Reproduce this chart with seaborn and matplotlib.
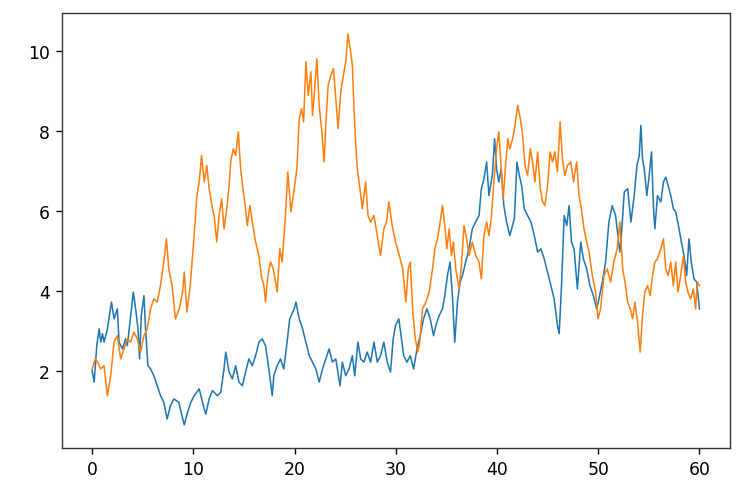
import matplotlib
matplotlib.use("Agg")
import matplotlib.pyplot as plt
import seaborn as sns
import pandas as pd

# Blue series (x, value)
blue_x = [0.00, 0.20, 0.46, 0.69, 0.86, 1.02, 1.18, 1.51, 1.91, 2.17, 2.49, 2.66, 2.99, 3.31, 3.48,
          3.81, 4.07, 4.30, 4.53, 4.69, 4.86, 5.12, 5.28, 5.51, 5.77, 6.10, 6.43, 6.76, 7.08, 7.41,
          7.74, 8.07, 8.56, 9.10, 9.43, 9.76, 10.08, 10.58, 11.07, 11.23, 11.56, 11.89, 12.38, 12.71,
          13.03, 13.20, 13.53, 13.85, 14.18, 14.51, 14.84, 15.16, 15.49, 15.82, 16.15, 16.48, 16.80,
          17.13, 17.46, 17.79, 17.95, 18.28, 18.61, 18.93, 19.26, 19.52, 19.97, 20.13, 20.46, 20.79,
          21.12, 21.45, 21.77, 22.10, 22.43, 22.76, 23.08, 23.41, 23.74, 24.07, 24.49, 24.72, 25.05,
          25.38, 25.71, 25.94, 26.26, 26.53, 26.85, 27.18, 27.51, 27.84, 28.17, 28.49, 28.82, 29.15,
          29.48, 29.74, 29.97, 30.30, 30.78, 31.10, 31.43, 31.76, 32.09, 32.41, 32.74, 33.07, 33.40,
          33.73, 33.95, 34.28, 34.61, 34.84, 35.10, 35.36, 35.59, 35.82, 36.09, 36.35, 36.58, 36.90,
          37.23, 37.56, 37.89, 38.22, 38.45, 38.71, 38.97, 39.20, 39.53, 39.76, 39.95, 40.18, 40.41,
          40.67, 40.94, 41.26, 41.71, 41.97, 42.20, 42.43, 42.69, 43.02, 43.35, 43.68, 44.01, 44.33,
          44.66, 44.99, 45.32, 45.64, 45.97, 46.14, 46.37, 46.63, 46.89, 47.12, 47.35, 47.61, 47.94,
          48.27, 48.53, 48.86, 49.18, 49.51, 49.84, 50.07, 50.40, 50.72, 51.05, 51.38, 51.71, 51.94,
          52.13, 52.24, 52.57, 52.90, 53.23, 53.55, 53.82, 54.05, 54.21, 54.37, 54.54, 54.80, 55.03,
          55.26, 55.46, 55.59, 55.85, 56.18, 56.44, 56.67, 56.90, 57.16, 57.42, 57.65, 57.98, 58.21,
          58.47, 58.73, 58.96, 59.19, 59.45, 59.72, 60.00]
blue_y = [2.01, 1.72, 2.63, 3.05, 2.72, 2.93, 2.72, 3.05, 3.72, 3.30, 3.55, 2.72, 2.55, 2.80, 2.63,
          3.38, 3.97, 3.55, 3.05, 2.30, 3.38, 3.88, 3.05, 2.13, 2.05, 1.88, 1.63, 1.38, 1.22, 0.80,
          1.13, 1.30, 1.22, 0.65, 0.97, 1.22, 1.38, 1.55, 1.05, 0.92, 1.30, 1.51, 1.38, 1.47,
          2.05, 2.47, 1.97, 1.80, 2.13, 1.72, 1.63, 1.97, 2.30, 2.13, 2.38, 2.72, 2.80,
          2.63, 2.05, 1.38, 1.88, 2.13, 2.30, 2.05, 2.72, 3.30, 3.55, 3.72, 3.30, 3.05,
          2.72, 2.38, 2.22, 2.05, 1.72, 2.05, 2.30, 2.55, 2.22, 2.30, 1.63, 2.22, 1.88,
          2.05, 2.38, 1.88, 2.72, 2.30, 2.22, 2.47, 2.22, 2.72, 2.22, 2.38, 2.72, 2.22,
          1.97, 2.80, 3.13, 3.30, 2.38, 2.22, 2.38, 2.05, 2.55, 2.88, 3.30, 3.55, 3.30,
          2.88, 3.13, 3.38, 3.55, 3.88, 4.38, 4.72, 3.88, 2.72, 3.72, 4.22, 4.38, 4.72,
          5.05, 5.55, 5.72, 5.88, 6.55, 6.80, 7.22, 6.38, 6.88, 7.80, 7.05, 6.72, 7.05,
          6.13, 5.72, 5.38, 5.80, 7.22, 6.88, 6.63, 6.05, 5.88, 5.72, 5.38, 4.97, 5.05,
          4.80, 4.47, 4.13, 3.80, 3.13, 2.93, 4.13, 5.88, 5.63, 6.13, 5.22, 5.05, 4.05,
          5.22, 4.80, 4.55, 4.13, 3.88, 3.55, 3.80, 4.22, 4.72, 5.72, 6.13, 5.88, 5.38,
          4.97, 5.22, 6.47, 6.55, 5.72, 6.38, 7.13, 7.38, 8.13, 7.30, 7.05, 6.38, 6.88,
          7.47, 6.05, 5.55, 6.38, 6.22, 6.72, 6.84, 6.63, 6.38, 6.05, 5.97, 5.55, 5.22,
          4.88, 4.38, 5.30, 4.72, 4.30, 4.22, 3.55]

# Orange series (x, value)
orange_x = [0.00, 0.30, 0.53, 0.85, 1.18, 1.51, 1.84, 2.16, 2.49, 2.82, 3.15, 3.47, 3.80, 4.13, 4.46,
            4.79, 5.11, 5.44, 5.77, 6.10, 6.43, 6.75, 7.08, 7.34, 7.57, 7.90, 8.23, 8.61, 8.94, 9.10,
            9.36, 9.69, 9.92, 10.08, 10.35, 10.58, 10.81, 11.07, 11.33, 11.56, 11.89, 12.05, 12.31,
            12.54, 12.80, 13.03, 13.30, 13.53, 13.69, 13.95, 14.18, 14.44, 14.67, 14.94, 15.16, 15.33,
            15.59, 15.82, 16.15, 16.48, 16.71, 16.97, 17.13, 17.36, 17.62, 17.89, 18.11, 18.28, 18.54,
            18.77, 19.10, 19.33, 19.64, 19.97, 20.23, 20.46, 20.69, 20.89, 21.12, 21.35, 21.61, 21.77,
            21.94, 22.20, 22.43, 22.66, 22.92, 23.08, 23.31, 23.58, 23.84, 24.07, 24.30, 24.56, 24.82,
            25.05, 25.28, 25.54, 25.71, 25.87, 26.03, 26.20, 26.46, 26.69, 27.02, 27.25, 27.51, 27.84,
            28.17, 28.49, 28.82, 29.08, 29.31, 29.64, 29.97, 30.35, 30.68, 31.00, 31.23, 31.43, 31.66,
            31.89, 32.15, 32.32, 32.64, 32.97, 33.30, 33.63, 33.86, 34.12, 34.38, 34.61, 34.84, 35.04,
            35.27, 35.50, 35.69, 35.92, 36.25, 36.48, 36.74, 37.00, 37.23, 37.56, 37.89, 38.22, 38.45,
            38.71, 38.97, 39.20, 39.43, 39.69, 39.95, 40.18, 40.41, 40.61, 40.84, 41.07, 41.26, 41.55,
            41.78, 42.04, 42.30, 42.53, 42.76, 43.02, 43.28, 43.51, 43.74, 44.01, 44.27, 44.50, 44.73,
            44.99, 45.25, 45.48, 45.71, 45.97, 46.23, 46.46, 46.69, 46.96, 47.28, 47.55, 47.87, 48.10,
            48.33, 48.59, 48.86, 49.09, 49.41, 49.74, 49.97, 50.23, 50.56, 50.89, 51.22, 51.54, 51.87,
            52.13, 52.41, 52.64, 52.90, 53.16, 53.39, 53.62, 53.88, 54.14, 54.37, 54.60, 54.87, 55.13,
            55.36, 55.59, 55.85, 56.18, 56.44, 56.67, 56.90, 57.16, 57.42, 57.65, 57.88, 58.14, 58.41,
            58.63, 58.86, 59.13, 59.39, 59.62, 59.78, 60.00]
orange_y = [2.05, 2.30, 2.22, 2.05, 2.13, 1.38, 1.88, 2.72, 2.88, 2.30, 2.55, 2.80, 2.72, 2.97, 2.80,
            2.47, 2.88, 3.05, 3.55, 3.80, 3.72, 4.13, 4.72, 5.30, 4.55, 4.13, 3.30, 3.55, 3.97, 4.47,
            3.47, 4.13, 4.88, 5.38, 6.38, 6.72, 7.38, 6.72, 7.13, 6.55, 6.05, 5.88, 5.22,
            5.88, 6.30, 5.55, 6.05, 6.63, 7.22, 7.55, 7.38, 7.97, 7.05, 6.47, 6.05, 5.63,
            6.13, 5.72, 5.22, 4.88, 4.38, 4.13, 3.72, 4.38, 4.72, 4.55, 4.22, 3.97, 5.05,
            4.72, 5.88, 6.97, 5.97, 6.55, 7.05, 8.30, 8.55, 8.22, 9.72, 8.88, 9.47, 8.38,
            8.88, 9.80, 8.63, 8.05, 7.22, 8.13, 9.13, 9.38, 9.55, 8.80, 8.05, 8.97, 9.38,
            9.72, 10.42, 9.97, 9.63, 8.55, 7.72, 7.05, 6.55, 6.05, 6.72, 5.88, 5.72, 5.88,
            5.38, 4.88, 5.55, 5.72, 6.22, 5.63, 5.22, 4.88, 4.55, 3.72, 4.55, 4.72, 3.55,
            2.88, 2.47, 2.63, 3.55, 3.72, 3.97, 4.55, 5.05, 5.30, 5.72, 6.13, 5.63, 5.05,
            5.55, 4.88, 5.22, 4.55, 4.05, 4.63, 5.63, 5.30, 4.88, 5.22, 4.88, 4.72, 4.30,
            5.38, 5.72, 5.38, 5.80, 6.72, 7.55, 7.97, 7.05, 6.30, 7.13, 7.80, 7.55, 7.80,
            8.13, 8.63, 8.30, 7.88, 7.13, 6.88, 7.55, 7.22, 6.72, 7.47, 6.55, 6.22, 6.13,
            6.63, 7.47, 7.22, 7.47, 6.97, 8.22, 7.30, 6.88, 7.13, 7.22, 6.72, 7.22, 6.38,
            6.05, 5.55, 5.22, 4.97, 4.38, 3.97, 3.30, 3.55, 4.38, 4.55, 4.22, 4.72, 5.05,
            5.72, 4.55, 4.22, 3.72, 3.55, 3.30, 3.72, 3.22, 2.47, 3.38, 3.97, 4.13, 3.88,
            4.38, 4.72, 4.80, 5.05, 5.30, 4.55, 4.38, 4.72, 4.13, 4.72, 3.97, 4.38, 4.88,
            4.22, 3.97, 3.80, 4.05, 3.55, 4.22, 4.13]

x_ticks = [0, 10, 20, 30, 40, 50, 60]
y_ticks = [2, 4, 6, 8, 10]

blue_df = pd.DataFrame({"x": blue_x, "y": blue_y})
orange_df = pd.DataFrame({"x": orange_x, "y": orange_y})

fig, ax = plt.subplots(figsize=(6.0, 4.016), dpi=124)
fig.subplots_adjust(left=0.083, right=0.981, bottom=0.098, top=0.972)

sns.lineplot(data=blue_df, x="x", y="y", ax=ax, color="#1f77b4", linewidth=0.9,
             sort=False, estimator=None)
sns.lineplot(data=orange_df, x="x", y="y", ax=ax, color="#ff7f0e", linewidth=0.9,
             sort=False, estimator=None)

ax.set_xlim(-3, 63)
ax.set_ylim(0.07, 10.94)
ax.set_xticks(x_ticks)
ax.set_yticks(y_ticks)
ax.set_xlabel("")
ax.set_ylabel("")
for s in ax.spines.values():
    s.set_color("#333333")

fig.savefig("out.png", dpi=124)
